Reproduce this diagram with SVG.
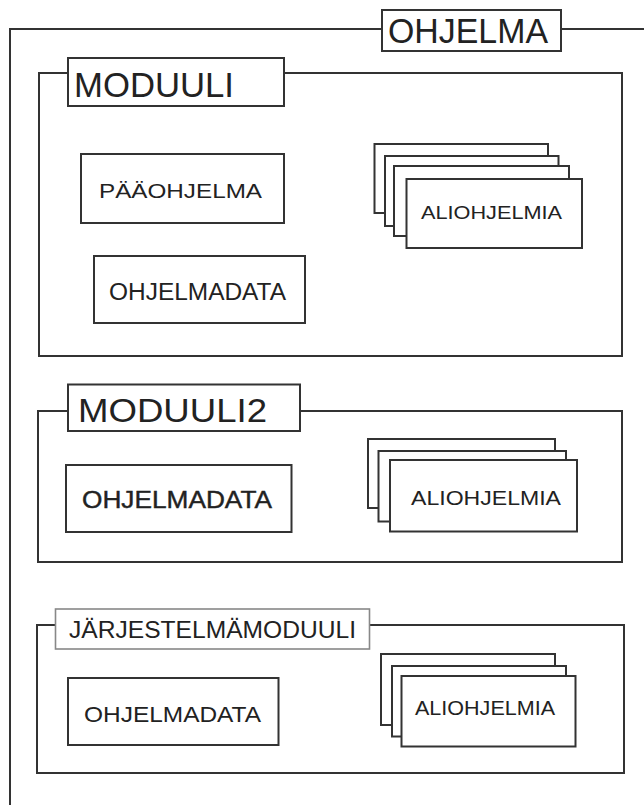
<svg xmlns="http://www.w3.org/2000/svg" width="644" height="805" viewBox="0 0 644 805">
  <style>
    .frame { fill: none; stroke: #333; stroke-width: 2; }
    .box { fill: #fff; stroke: #333; stroke-width: 2; }
    .label { fill: #fff; stroke: #333; stroke-width: 2; }
    .label-light { fill: #fff; stroke: #888; stroke-width: 1.6; }
    .t { font-family: "Liberation Sans", Arial, sans-serif; fill: #222; }
  </style>
  <rect width="644" height="805" fill="#fff"/>

  <!-- Program container -->
  <g id="ohjelma">
    <path class="frame" d="M10,805 V29 H644"/>
    <rect class="label" x="382" y="10" width="179" height="41"/>
    <text class="t" x="388" y="43" font-size="35" textLength="160" lengthAdjust="spacingAndGlyphs">OHJELMA</text>
  </g>

  <!-- Module 1 -->
  <g id="moduuli">
    <rect class="frame" x="39" y="73" width="583" height="283"/>
    <rect class="label" x="68" y="58" width="216" height="48"/>
    <text class="t" x="74" y="97" font-size="35" textLength="160" lengthAdjust="spacingAndGlyphs">MODUULI</text>
  </g>
  <g id="paaohjelma">
    <rect class="box" x="81" y="154" width="203" height="69"/>
    <text class="t" x="99" y="198" font-size="21" textLength="163" lengthAdjust="spacingAndGlyphs">PÄÄOHJELMA</text>
  </g>
  <g id="ohjelmadata1">
    <rect class="box" x="94" y="256" width="211" height="67"/>
    <text class="t" x="109" y="300" font-size="23" textLength="177" lengthAdjust="spacingAndGlyphs">OHJELMADATA</text>
  </g>
  <g id="aliohjelmia1">
    <rect class="box" x="374.5" y="144" width="173.5" height="69"/>
    <rect class="box" x="385" y="156" width="173.5" height="70"/>
    <rect class="box" x="394" y="166" width="175" height="70"/>
    <rect class="box" x="406.5" y="179" width="175.5" height="69"/>
    <text class="t" x="421" y="219" font-size="19" textLength="141" lengthAdjust="spacingAndGlyphs">ALIOHJELMIA</text>
  </g>

  <!-- Module 2 -->
  <g id="moduuli2">
    <rect class="frame" x="38" y="411" width="584" height="151"/>
    <rect class="label" x="68" y="384.5" width="232" height="46.5"/>
    <text class="t" x="78" y="422" font-size="33" textLength="189" lengthAdjust="spacingAndGlyphs">MODUULI2</text>
  </g>
  <g id="ohjelmadata2">
    <rect class="box" x="66" y="465" width="225.5" height="67" stroke-width="2.4"/>
    <text class="t" x="82" y="508" font-size="23.5" textLength="190" lengthAdjust="spacingAndGlyphs" stroke="#222" stroke-width="0.4">OHJELMADATA</text>
  </g>
  <g id="aliohjelmia2">
    <rect class="box" x="368" y="439" width="187" height="69"/>
    <rect class="box" x="378.5" y="451" width="187.5" height="70.5"/>
    <rect class="box" x="390" y="460" width="187" height="71.5"/>
    <text class="t" x="411" y="505" font-size="20" textLength="150" lengthAdjust="spacingAndGlyphs">ALIOHJELMIA</text>
  </g>

  <!-- System module -->
  <g id="jarjestelmamoduuli">
    <rect class="frame" x="37" y="625" width="587" height="148"/>
    <rect class="label-light" x="55.5" y="609" width="314" height="40"/>
    <text class="t" x="69" y="638" font-size="23" textLength="287" lengthAdjust="spacingAndGlyphs">JÄRJESTELMÄMODUULI</text>
  </g>
  <g id="ohjelmadata3">
    <rect class="box" x="68" y="678" width="210.5" height="67"/>
    <text class="t" x="84" y="722" font-size="22" textLength="177" lengthAdjust="spacingAndGlyphs">OHJELMADATA</text>
  </g>
  <g id="aliohjelmia3">
    <rect class="box" x="381" y="654" width="174" height="71"/>
    <rect class="box" x="392" y="666" width="174" height="70.5"/>
    <rect class="box" x="401.5" y="676" width="174" height="70.5"/>
    <text class="t" x="415" y="715" font-size="21" textLength="140" lengthAdjust="spacingAndGlyphs">ALIOHJELMIA</text>
  </g>

  <!-- connectors: none; nesting is shown by the frames -->
  <g id="connectors"/>
</svg>
